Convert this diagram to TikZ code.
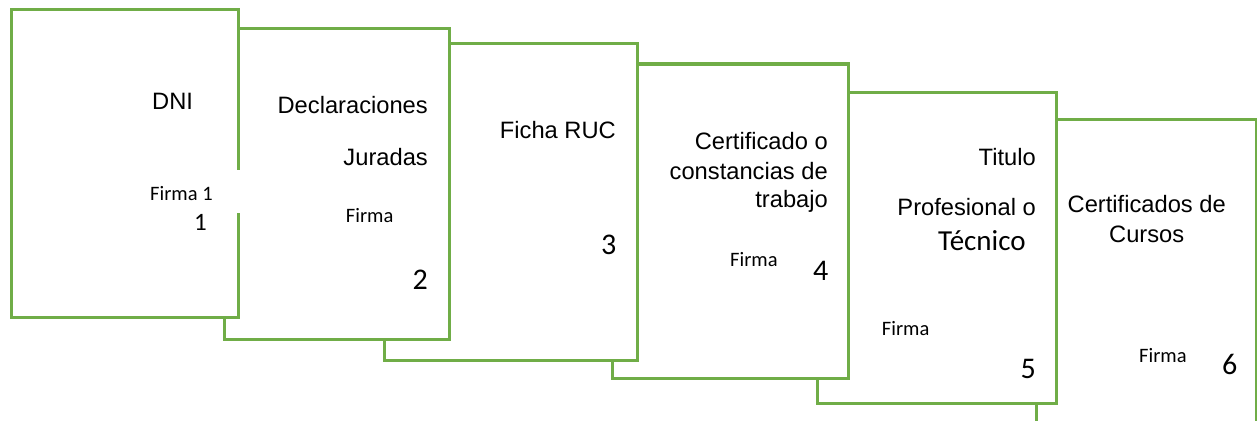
\documentclass[tikz,border=0pt]{standalone}
\usepackage{fontspec}
\setmainfont{Liberation Sans}
\newfontfamily\calfont{Carlito}
\definecolor{docgreen}{HTML}{70AD47}
\tikzset{
  doc/.style={draw=docgreen, fill=white, line width=3pt, inner sep=0pt, outer sep=0pt, anchor=north west},
  big/.style={inner sep=0pt, font=\fontsize{23.7}{28}\selectfont},
  sig/.style={inner sep=0pt, font=\calfont\fontsize{20.5}{24}\selectfont},
  num/.style={inner sep=0pt, font=\calfont\fontsize{30}{34}\selectfont},
}
\begin{document}
\begin{tikzpicture}[x=1pt,y=-1pt]
\useasboundingbox (0,0) rectangle (1257,420);
\clip (0,0) rectangle (1257,420);
% documents, back to front
\node[doc, minimum width=220pt, minimum height=330pt] (b6) at (1036,119) {};
\node[doc, minimum width=239pt, minimum height=311pt] (b5) at (817,92) {};
\node[doc, minimum width=236pt, minimum height=314pt] (b4) at (612,64) {};
\node[doc, minimum width=253pt, minimum height=316pt] (b3) at (384,44) {};
\node[doc, minimum width=225pt, minimum height=310pt] (b2) at (224,29) {};
\node[doc, minimum width=227pt, minimum height=307pt] (b1) at (11,10) {};
% white text-box background of "Firma 1"
\node[fill=white, inner sep=0pt, outer sep=0pt, anchor=north west, minimum width=100.8pt, minimum height=42.7pt] (f1bg) at (140,170) {};
% box 1
\node[big, anchor=base west] (t1) at (152,109) {DNI};
\node[sig, anchor=base west] (s1) at (150,200.7) {Firma 1};
\node[num, anchor=base east, font=\calfont\fontsize{25}{30}\selectfont] (n1) at (207,230.7) {1};
% box 2
\node[big, anchor=base east] (t2a) at (428,113.3) {Declaraciones};
\node[big, anchor=base east] (t2b) at (428,165) {Juradas};
\node[sig, anchor=base west] (s2) at (345.7,222.7) {Firma};
\node[num, anchor=base east] (n2) at (428,289.3) {2};
% box 3
\node[big, anchor=base east] (t3) at (616,138.3) {Ficha RUC};
\node[num, anchor=base east] (n3) at (616.5,254.3) {3};
% box 4
\node[big, anchor=base east] (t4a) at (828,149.3) {Certificado o};
\node[big, anchor=base east] (t4b) at (828,179) {constancias de};
\node[big, anchor=base east] (t4c) at (828,207.7) {trabajo};
\node[sig, anchor=base west] (s4) at (730,266.7) {Firma};
\node[num, anchor=base east] (n4) at (828.5,280.7) {4};
% box 5
\node[big, anchor=base east] (t5a) at (1036,165) {Titulo};
\node[big, anchor=base east] (t5b) at (1036,215) {Profesional o};
\node[inner sep=0pt, anchor=base west, font=\calfont\fontsize{29}{34}\selectfont] (t5c) at (938,250.7) {Técnico};
\node[sig, anchor=base west] (s5) at (881.7,335) {Firma};
\node[num, anchor=base east] (n5) at (1036,378.3) {5};
% box 6
\node[big, anchor=base] (t6a) at (1146.7,212.7) {Certificados de};
\node[big, anchor=base] (t6b) at (1146.7,242.7) {Cursos};
\node[sig, anchor=base west] (s6) at (1139,362.3) {Firma};
\node[num, anchor=base east] (n6) at (1237.5,374.3) {6};
\end{tikzpicture}
\end{document}
